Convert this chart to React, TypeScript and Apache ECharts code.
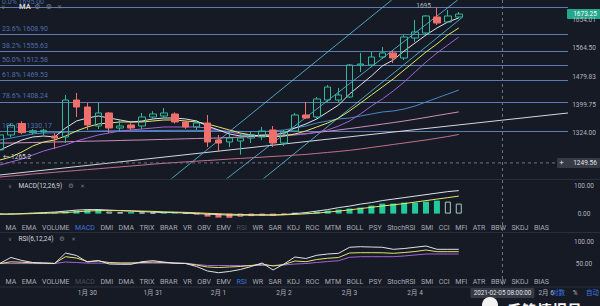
import React, { useEffect, useRef } from "react";
import * as echarts from "echarts";

// ---------- data ----------
const FONT = "Roboto, 'Noto Sans CJK SC', sans-serif";
const SYM_FONT = "'DejaVu Sans', sans-serif";
const BG = "#161a25";

// 4-hour slots, 2021-01-28 16:00 .. 2021-02-06 08:00
const SLOT_COUNT = 53;
const pad = (n: number) => String(n).padStart(2, "0");
const SLOTS: string[] = Array.from({ length: SLOT_COUNT }, (_, i) => {
  const t = new Date(Date.UTC(2021, 0, 28, 16) + i * 4 * 3600e3);
  return `${t.getUTCFullYear()}-${pad(t.getUTCMonth() + 1)}-${pad(t.getUTCDate())} ${pad(t.getUTCHours())}:00`;
});

const OPEN = [1282, 1320, 1350, 1326, 1328, 1317, 1314.8, 1413.6, 1394.3, 1343.4, 1378.1, 1338.1, 1346.1, 1343.4, 1367.3, 1370.0, 1375.4, 1354.0, 1340.8, 1351.3, 1307.0, 1301.9, 1304.4, 1312.1, 1314.7, 1332.9, 1299.3, 1330.3, 1372.7, 1367.3, 1413.6, 1413.6, 1422.0, 1514.2, 1514.2, 1538.1, 1550.3, 1535.1, 1596.5, 1612.2, 1663.6, 1647.4, 1663.6];
const HIGH = [1330, 1350, 1356, 1335, 1336, 1325, 1427.6, 1433.2, 1405.3, 1405.3, 1380.8, 1359.3, 1351, 1378.1, 1383, 1391.6, 1380, 1357, 1359.3, 1372.7, 1320, 1327.7, 1325.1, 1327.7, 1340.8, 1343.4, 1332.9, 1378.1, 1408.1, 1422, 1455.8, 1447.4, 1517, 1550.3, 1553.2, 1568.6, 1559.3, 1606, 1653.9, 1670, 1695, 1686.6, 1680];
const LOW = [1265.2, 1314, 1322, 1321, 1320, 1284, 1299.3, 1367.3, 1332.9, 1335.5, 1325.1, 1327.7, 1333, 1335.5, 1362, 1364.6, 1350, 1336, 1332.9, 1289, 1276.6, 1289, 1270, 1299.3, 1307, 1289, 1291.7, 1327.7, 1362, 1362, 1408, 1405.3, 1419, 1493.5, 1508.3, 1532.1, 1520.1, 1529, 1584, 1606, 1637.7, 1644.2, 1660];
const CLOSE = [1320, 1345, 1326, 1331, 1332, 1312, 1413.6, 1394.3, 1346.1, 1378.1, 1338.1, 1343.4, 1338.1, 1367.3, 1375.4, 1378.1, 1354.0, 1340.8, 1351.3, 1301.9, 1299.3, 1312.1, 1312.1, 1320.0, 1330.3, 1299.3, 1327.7, 1372.7, 1364.6, 1416.4, 1450.1, 1427.6, 1514.2, 1517.1, 1538.1, 1550.3, 1535.1, 1599.6, 1615.4, 1666.9, 1644.2, 1666.9, 1673.25];

const MA_WHITE = [1281.6, 1294.2, 1307.0, 1314.7, 1317.3, 1314.7, 1338.1, 1356.6, 1364.6, 1370.0, 1364.6, 1359.3, 1354.0, 1356.6, 1362.0, 1364.6, 1364.6, 1362.0, 1356.6, 1343.4, 1332.9, 1322.5, 1317.3, 1317.3, 1319.9, 1319.9, 1325.1, 1338.1, 1348.7, 1362.0, 1380.8, 1399.8, 1430.3, 1455.9, 1481.8, 1511.1, 1529.0, 1556.3, 1580.9, 1605.9, 1628.1, 1647.4, 1660.4];
const MA_YELLOW = [1256.7, 1264.1, 1276.6, 1291.7, 1301.9, 1307.0, 1317.3, 1330.3, 1340.8, 1348.7, 1351.3, 1354.0, 1354.0, 1354.0, 1356.6, 1359.3, 1359.3, 1356.6, 1354.0, 1348.7, 1340.8, 1332.9, 1325.1, 1319.9, 1317.3, 1314.7, 1317.3, 1322.5, 1330.3, 1340.8, 1351.3, 1364.6, 1383.5, 1405.3, 1427.5, 1450.2, 1473.1, 1499.3, 1526.0, 1553.2, 1577.8, 1605.9, 1628.1];
const MA_PURPLE = [1244.4, 1251.8, 1259.2, 1269.1, 1279.1, 1286.6, 1294.2, 1304.4, 1312.1, 1319.9, 1325.1, 1330.3, 1332.9, 1335.5, 1338.1, 1340.8, 1340.8, 1340.8, 1340.8, 1338.1, 1332.9, 1327.7, 1322.5, 1319.9, 1317.3, 1317.3, 1317.3, 1319.9, 1322.5, 1327.7, 1332.9, 1343.4, 1356.6, 1375.4, 1397.1, 1416.4, 1438.8, 1464.4, 1493.4, 1523.0, 1550.2, 1574.7, 1599.6];
const MA_BLUE = [1307.0, 1312.1, 1317.3, 1322.5, 1325.1, 1325.6, 1327.0, 1328.5, 1329.5, 1330.3, 1330.8, 1331.0, 1331.0, 1331.2, 1331.5, 1331.8, 1332.0, 1332.0, 1331.8, 1331.2, 1330.5, 1329.8, 1329.2, 1328.8, 1328.6, 1330.3, 1332.9, 1338.1, 1343.4, 1351.3, 1356.6, 1362.0, 1364.6, 1370.0, 1375.4, 1380.8, 1383.5, 1388.9, 1397.1, 1408.1, 1419.2, 1430.3, 1441.6];
const MA_PINK = [1299.3, 1299.3, 1299.9, 1300.6, 1301.1, 1301.9, 1302.4, 1303.2, 1303.9, 1304.4, 1305.0, 1305.7, 1306.5, 1307.0, 1307.8, 1308.5, 1309.3, 1310.1, 1310.8, 1311.6, 1312.1, 1313.2, 1314.4, 1315.7, 1317.0, 1318.3, 1319.6, 1321.2, 1323.2, 1326.4, 1329.5, 1332.9, 1336.6, 1340.3, 1344.3, 1348.3, 1352.4, 1356.6, 1361.2, 1366.1, 1371.2, 1376.1, 1381.0];
const MA_ROSE = [1215.5, 1217.9, 1220.0, 1222.7, 1224.6, 1226.8, 1228.9, 1231.1, 1233.3, 1235.4, 1237.6, 1239.8, 1242.0, 1244.2, 1246.5, 1248.5, 1250.4, 1252.1, 1253.9, 1255.5, 1257.2, 1259.0, 1260.5, 1262.2, 1263.7, 1265.5, 1267.0, 1268.7, 1270.5, 1273.0, 1275.5, 1278.0, 1280.8, 1284.1, 1288.0, 1291.7, 1295.6, 1299.3, 1303.2, 1307.0, 1311.4, 1316.0, 1321.2];

// user drawings: [slot, price] endpoints
const TREND_LINE = [[0, 1220.3], [52, 1378.1]];
const CHANNEL_LINES = [
  [[15.55, 1208.4], [35.86, 1720]],
  [[20.6, 1208.4], [41.9, 1720]],
  [[23.97, 1208.4], [42.36, 1663.6]],
];

const FIB_RATIOS = ["0.0%", "23.6%", "38.2%", "50.0%", "61.8%", "78.6%", "100.0%"];
const FIB_PRICES = [1695.0, 1608.9, 1555.63, 1512.58, 1469.53, 1408.24, 1330.17];

const PRICE_TICKS = [1654.01, 1564.5, 1479.83, 1399.75, 1324.0];
const LAST_PRICE = 1673.25;
const CROSS_PRICE = 1249.56;
const CROSS_SLOT = "2021-02-05 08:00";
const CROSS_LABEL = "2021-02-05 08:00:00";
const HIGH_MARK = { slot: 40, price: 1695, text: "1695" };
const LOW_MARK = { slot: 0, price: 1265.2, text: "← 1265.2" };

const MACD_DIF = [-1.8, -1.8, 0, 1.8, 3.6, 5.4, 8.9, 12.5, 14.3, 14.3, 12.5, 10.7, 8.9, 7.1, 5.4, 3.6, 3.6, 1.8, 0, -1.8, -3.6, -5.4, -5.4, -5.4, -5.4, -5.4, -3.6, 0, 3.6, 8.9, 14.3, 21.4, 26.8, 33.9, 39.3, 46.4, 51.8, 57.1, 62.5, 67.8, 73.2, 78.5, 82.1];
const MACD_DEA = [-1.8, -1.8, -1.1, 0, 1.1, 2.1, 3.6, 6.4, 8.9, 10.7, 10.7, 10.7, 10.0, 8.9, 7.9, 6.4, 5.4, 4.3, 2.9, 1.1, -0.7, -2.1, -3.2, -3.9, -4.3, -4.6, -4.3, -2.9, -0.7, 1.8, 5.4, 8.9, 13.2, 17.9, 22.5, 27.1, 31.4, 35.7, 41.1, 46.4, 51.8, 57.1, 62.5];
const MACD_HIST = [1.8, 1.8, 1.8, 2.5, 3.6, 4.3, 7.1, 10.7, 14.3, 15, 7.1, 5.4, 5.4, 4.3, 3.6, 3.6, 3.6, 2.9, -1.8, -10.7, -14.3, -15, -10.7, -8.9, -7.1, -7.9, -3.6, 1.8, 3.6, 7.1, 10.7, 14.3, 17.9, 21.4, 28.6, 35.7, 35.7, 39.3, 39.3, 42.8, 46.4, 42.8, 35.7];
const MACD_TICKS = [100, 0];

const RSI6 = [51.6, 64.8, 58, 53.4, 52.3, 51.1, 75, 69.3, 54.5, 58, 50, 49.3, 49.3, 55.2, 57.5, 54.5, 51.6, 51.1, 44.3, 34.1, 30.2, 33, 37.5, 44.3, 52.3, 36.4, 50, 65.9, 62.5, 69.8, 72.7, 74.3, 88, 89.3, 88.6, 88, 83.4, 85.2, 88, 90.9, 83.4, 83.4, 83.4];
const RSI12 = [51, 55, 54, 52.5, 52, 51.5, 66.6, 63.6, 55.7, 56.8, 53.4, 52.3, 52.3, 53.4, 54.5, 53.4, 52.3, 51.1, 47.7, 43.2, 42, 43.2, 44.3, 46.6, 50, 45.5, 48.9, 56.8, 55.2, 60.2, 63, 64.8, 75, 75.7, 75.7, 75.5, 74.3, 76.1, 78.4, 81.8, 78, 78, 78];
const RSI24 = [51, 51, 51, 51, 51, 51, 54.5, 53.4, 52, 52, 52, 52, 52, 52, 52, 52, 52, 52, 48.9, 46.6, 46.6, 46.6, 46.6, 46.6, 46.6, 46.6, 47.7, 50, 51.1, 53.4, 55.7, 57.5, 65.2, 66.6, 66.6, 66.6, 66.6, 68.2, 70.5, 72.7, 72.7, 72.7, 72.7];
const RSI_TICKS = [100, 50];

const INDICATOR_TABS = ["MA", "EMA", "VOLUME", "MACD", "DMI", "DMA", "TRIX", "BRAR", "VR", "OBV", "EMV", "RSI", "WR", "SAR", "KDJ", "ROC", "MTM", "BOLL", "PSY", "StochRSI", "SMI", "CCI", "MFI", "ATR", "BBW", "SKDJ", "BIAS"];

// ---------- styles ----------
const UP = "#2fb99a";
const DOWN = "#ef6f6c";
const C_WHITE = "#dfe2ea";
const C_YELLOW = "#e3e56c";
const C_PURPLE = "#a463d6";
const C_BLUE = "#4a86c8";
const C_PINK = "#cf8dbd";
const C_ROSE = "#c0708f";
const C_CHANNEL = "#56bcd9";
const C_FIB = "#6b8dcc";
const C_FIB_TXT = "#5b80c6";
const C_AXIS_TXT = "#b2b5be";
const C_SEP = "#2a2e39";

const CROSS_INDEX = SLOTS.indexOf(CROSS_SLOT);

const maLine = (name: string, data: number[], color: string) => ({
  name, type: "line", xAxisIndex: 0, yAxisIndex: 0, data, showSymbol: false, silent: true,
  lineStyle: { color, width: 1 }, z: 4,
});

function buildOption(): any {
  const candles = OPEN.map((o, i) => [o, CLOSE[i], LOW[i], HIGH[i]]);
  const hist = MACD_HIST.map((v, i) => {
    const prev = i > 0 ? Math.abs(MACD_HIST[i - 1]) : 0;
    const growing = Math.abs(v) >= prev;
    const col = v >= 0 ? "#22c99a" : DOWN;
    const hollowBorder = v >= 0 ? "#a9c7c0" : "#ef8a86";
    return {
      value: v,
      itemStyle: growing
        ? { color: col, borderColor: col, borderWidth: 0 }
        : { color: "rgba(0,0,0,0)", borderColor: hollowBorder, borderWidth: 1 },
    };
  });
  return {
    backgroundColor: BG,
    animation: false,
    textStyle: { fontFamily: FONT },
    grid: [
      { left: 0, right: 32, top: 0, height: 178 },
      { left: 0, right: 32, top: 180, height: 42 },
      { left: 0, right: 32, top: 233.2, height: 52.8 },
    ],
    xAxis: [
      { type: "category", gridIndex: 0, data: SLOTS, boundaryGap: false, show: false },
      { type: "category", gridIndex: 1, data: SLOTS, boundaryGap: false, show: false },
      {
        type: "category", gridIndex: 2, data: SLOTS, boundaryGap: false,
        axisLine: { show: false }, axisTick: { show: false }, splitLine: { show: false },
        axisLabel: {
          color: C_AXIS_TXT, fontSize: 6.5, fontFamily: FONT, margin: 3.5,
          // day labels; ones too near the left edge or under the crosshair badge are hidden
          interval: (i: number, v: string) => v.endsWith("00:00") && i >= 4 && Math.abs(i - CROSS_INDEX) > 3,
          formatter: (v: string) => {
            const [d] = v.split(" ");
            const [, m, day] = d.split("-");
            return `${+m}月 ${+day}`;
          },
        },
      },
      { type: "value", gridIndex: 0, min: 0, max: SLOT_COUNT - 1, show: false },
    ],
    yAxis: [
      { type: "log", gridIndex: 0, min: 1213.1, max: 1720, show: false },
      { type: "value", gridIndex: 1, min: -30, max: 120, show: false },
      { type: "value", gridIndex: 2, min: 0, max: 120, show: false },
    ],
    series: [
      {
        name: "fib", type: "line", xAxisIndex: 0, yAxisIndex: 0, data: CLOSE, silent: true,
        showSymbol: false, lineStyle: { opacity: 0 }, z: 1,
        markLine: {
          silent: true, symbol: ["none", "none"], z: 1,
          lineStyle: { color: C_FIB, width: 1, type: "solid", opacity: 0.85 },
          label: { position: "insideStartTop", color: C_FIB_TXT, fontSize: 7, fontFamily: FONT, distance: 2 },
          data: FIB_PRICES.map((p, i) => ({ yAxis: p, label: { formatter: `${FIB_RATIOS[i]} ${p.toFixed(2)}` } })),
        },
      },
      maLine("MA-rose", MA_ROSE, C_ROSE),
      maLine("MA-pink", MA_PINK, C_PINK),
      maLine("MA-blue", MA_BLUE, C_BLUE),
      {
        name: "trend", type: "line", xAxisIndex: 3, yAxisIndex: 0, data: TREND_LINE, showSymbol: false,
        silent: true, lineStyle: { color: "#d4d7de", width: 1 }, z: 3,
      },
      ...CHANNEL_LINES.map((seg, i) => ({
        name: `channel${i}`, type: "line", xAxisIndex: 3, yAxisIndex: 0, data: seg, showSymbol: false,
        silent: true, lineStyle: { color: C_CHANNEL, width: 1, opacity: 0.85 }, z: 3,
      })),
      {
        name: "K", type: "candlestick", xAxisIndex: 0, yAxisIndex: 0, data: candles, barWidth: 7, silent: true,
        itemStyle: { color: "rgba(0,0,0,0)", color0: DOWN, borderColor: UP, borderColor0: DOWN, borderWidth: 1 },
        z: 5,
      },
      maLine("MA-purple", MA_PURPLE, C_PURPLE),
      maLine("MA-yellow", MA_YELLOW, C_YELLOW),
      maLine("MA-white", MA_WHITE, C_WHITE),
      {
        name: "hist", type: "bar", xAxisIndex: 1, yAxisIndex: 1, data: hist, barWidth: 6, silent: true,
      },
      { name: "DIF", type: "line", xAxisIndex: 1, yAxisIndex: 1, data: MACD_DIF, showSymbol: false, silent: true, lineStyle: { color: C_WHITE, width: 1 } },
      { name: "DEA", type: "line", xAxisIndex: 1, yAxisIndex: 1, data: MACD_DEA, showSymbol: false, silent: true, lineStyle: { color: C_YELLOW, width: 1 } },
      { name: "RSI24", type: "line", xAxisIndex: 2, yAxisIndex: 2, data: RSI24, showSymbol: false, silent: true, lineStyle: { color: C_PURPLE, width: 1 } },
      { name: "RSI12", type: "line", xAxisIndex: 2, yAxisIndex: 2, data: RSI12, showSymbol: false, silent: true, lineStyle: { color: C_YELLOW, width: 1 } },
      { name: "RSI6", type: "line", xAxisIndex: 2, yAxisIndex: 2, data: RSI6, showSymbol: false, silent: true, lineStyle: { color: C_WHITE, width: 1 } },
    ],
  };
}

const txt = (x: number, y: number, text: string, fill: string, size: number, align = "left", extra: any = {}) => ({
  type: "text", x, y, z: 100, silent: true,
  style: {
    text, fill, fontSize: size, fontFamily: extra.fontFamily || FONT, fontWeight: extra.fontWeight || "normal",
    textAlign: align, align, textVerticalAlign: "middle", verticalAlign: "middle",
  },
});
const hline = (x1: number, x2: number, y: number, stroke: string, dash?: number[]) => ({
  type: "line", z: 90, silent: true, shape: { x1, y1: y, x2, y2: y },
  style: { stroke, lineWidth: 1, lineDash: dash || null },
});
const vline = (x: number, y1: number, y2: number, stroke: string, dash?: number[]) => ({
  type: "line", z: 90, silent: true, shape: { x1: x, y1, x2: x, y2 },
  style: { stroke, lineWidth: 1, lineDash: dash || null },
});
const box = (x: number, y: number, w: number, h: number, fill: string) => ({
  type: "rect", z: 95, silent: true, shape: { x, y, width: w, height: h, r: 1 }, style: { fill },
});

function tabRow(y: number, active: string, dim: string) {
  const size = 7;
  const ctx = document.createElement("canvas").getContext("2d")!;
  ctx.font = `${size}px Roboto`;
  const ws = INDICATOR_TABS.map((t) => ctx.measureText(t).width);
  const total = ws.reduce((a, b) => a + b, 0);
  const start = 5.5, end = 549;
  const gap = (end - start - total) / (INDICATOR_TABS.length - 1);
  let x = start;
  return INDICATOR_TABS.map((t, i) => {
    const fill = t === active ? "#3f74dd" : t === dim ? "#4a4f5c" : "#a7aab3";
    const el = txt(x, y, t, fill, size);
    x += ws[i] + gap;
    return el;
  });
}

function buildGraphics(chart: any) {
  const xAt = (slot: any) => chart.convertToPixel({ xAxisIndex: 0 }, slot);
  const yMain = (v: number) => chart.convertToPixel({ yAxisIndex: 0 }, v);
  const yMacd = (v: number) => chart.convertToPixel({ yAxisIndex: 1 }, v);
  const yRsi = (v: number) => chart.convertToPixel({ yAxisIndex: 2 }, v);
  const RIGHT = 568, LABEL_X = 584;
  const g: any[] = [];
  // pane separators
  g.push(hline(0, 600, 179.5, C_SEP), hline(0, 600, 232.5, C_SEP), hline(0, 600, 287, C_SEP));
  // crosshair
  const cx = xAt(CROSS_SLOT);
  const cy = yMain(CROSS_PRICE);
  g.push(vline(cx, 0, 287, "#6f7481", [3, 3]), hline(0, RIGHT, cy, "#6f7481", [3, 3]));
  // titles
  g.push(txt(1, 6.5, "∨", "#787b86", 6, "left", { fontFamily: SYM_FONT }));
  g.push(txt(19, 6.5, "MA", "#d1d4dc", 7.5, "left", { fontWeight: "bold" }));
  g.push(txt(37.5, 6.5, "⚙", "#787b86", 7, "center", { fontFamily: SYM_FONT }));
  g.push(txt(49, 6.5, "⚙", "#787b86", 7, "center", { fontFamily: SYM_FONT }));
  g.push(txt(59.5, 6.5, "✕", "#787b86", 6, "center", { fontFamily: SYM_FONT }));
  g.push(txt(8, 185.7, "∨", "#787b86", 5.5, "left", { fontFamily: SYM_FONT }));
  g.push(txt(18.5, 185.7, "MACD(12,26,9)", "#d1d4dc", 6.5));
  g.push(txt(71, 185.7, "⚙", "#787b86", 6.5, "center", { fontFamily: SYM_FONT }));
  g.push(txt(82.5, 185.7, "✕", "#787b86", 5.5, "center", { fontFamily: SYM_FONT }));
  g.push(txt(8, 239.3, "∨", "#787b86", 5.5, "left", { fontFamily: SYM_FONT }));
  g.push(txt(18.5, 239.3, "RSI(6,12,24)", "#d1d4dc", 6.5));
  g.push(txt(62, 239.3, "⚙", "#787b86", 6.5, "center", { fontFamily: SYM_FONT }));
  g.push(txt(73.5, 239.3, "✕", "#787b86", 5.5, "center", { fontFamily: SYM_FONT }));
  // right scale labels
  PRICE_TICKS.forEach((p) => g.push(txt(LABEL_X, yMain(p), p.toFixed(2), C_AXIS_TXT, 6.5, "center")));
  MACD_TICKS.forEach((v) => g.push(txt(LABEL_X, yMacd(v), v.toFixed(2), C_AXIS_TXT, 6.5, "center")));
  RSI_TICKS.forEach((v) => g.push(txt(LABEL_X, yRsi(v), v.toFixed(2), C_AXIS_TXT, 6.5, "center")));
  // last price badge
  const ly = yMain(LAST_PRICE);
  g.push(box(RIGHT - 1, ly - 5, 34, 10, "#22a88c"));
  g.push(txt(LABEL_X + 1, ly, LAST_PRICE.toFixed(2), "#ffffff", 6.5, "center"));
  // crosshair price badge
  g.push(box(557, cy - 5, 43, 10, "#363a45"));
  g.push(txt(561.5, cy, "+", "#e0e3eb", 8, "center"));
  g.push(txt(LABEL_X + 1, cy, CROSS_PRICE.toFixed(2), "#e0e3eb", 6.5, "center"));
  // crosshair time badge
  g.push(box(cx - 32, 288, 64, 10, "#363a45"));
  g.push(txt(cx, 293, CROSS_LABEL, "#e0e3eb", 6.3, "center"));
  // scale mode buttons
  g.push(txt(552, 293, "对数", "#3d74e0", 6.5));
  g.push(txt(575, 293, "%", C_AXIS_TXT, 6.5, "center"));
  g.push(txt(586, 293, "自动", "#3d74e0", 6.5));
  // high / low markers
  g.push(txt(xAt(HIGH_MARK.slot) - 6, yMain(HIGH_MARK.price) - 1, HIGH_MARK.text, C_AXIS_TXT, 6.5, "right"));
  g.push(txt(xAt(LOW_MARK.slot) + 3, yMain(LOW_MARK.price), LOW_MARK.text, "#d1d4dc", 6.5, "left"));
  // indicator tabs
  g.push(...tabRow(227.8, "MACD", "RSI"));
  g.push(...tabRow(281.7, "RSI", "MACD"));
  // watermark
  g.push({ type: "circle", z: 99, silent: true, shape: { cx: 490, cy: 305, r: 8 }, style: { fill: "#f2f2f2" } });
  g.push(txt(507, 309, "千锋情报员", "#f5f5f5", 15, "left", { fontWeight: "bold", fontFamily: "'Noto Sans CJK SC', sans-serif" }));
  return g;
}

export default function App() {
  const ref = useRef<HTMLDivElement>(null);
  useEffect(() => {
    const el = ref.current!;
    const chart = echarts.init(el, undefined, { renderer: "svg" });
    chart.setOption(buildOption());
    chart.setOption({ graphic: buildGraphics(chart) });
    return () => chart.dispose();
  }, []);
  return (
    <div
      ref={ref}
      style={{ position: "fixed", left: 0, top: 0, width: 600, height: 306, background: BG }}
    />
  );
}
